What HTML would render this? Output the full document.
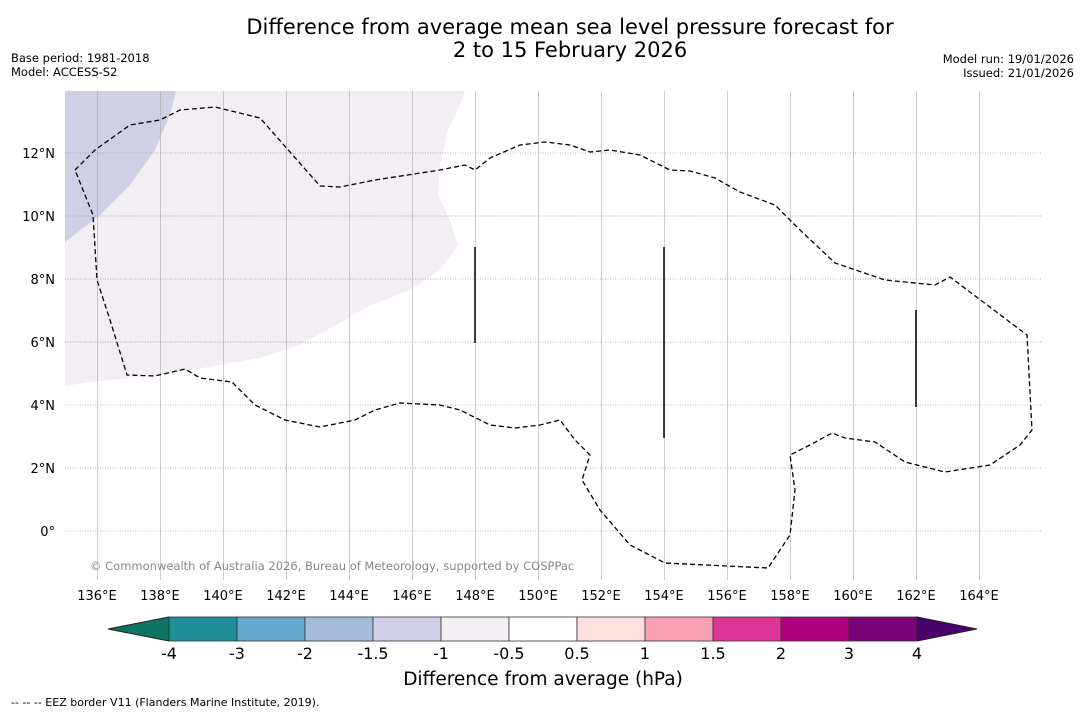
<!DOCTYPE html>
<html><head><meta charset="utf-8"><style>
body{margin:0;background:#fff;width:1085px;height:713px;overflow:hidden;font-family:"DejaVu Sans","Liberation Sans",sans-serif}
svg{position:absolute;left:0;top:0}
</style></head><body>
<svg id="c" width="1085" height="713" xmlns="http://www.w3.org/2000/svg">
<text x="570" y="34" font-size="21" text-anchor="middle">Difference from average mean sea level pressure forecast for</text>
<text x="570" y="57" font-size="21" text-anchor="middle">2 to 15 February 2026</text>
<text x="11" y="62" font-size="11.5">Base period: 1981-2018</text>
<text x="11" y="76" font-size="11.5">Model: ACCESS-S2</text>
<text x="1074" y="63" font-size="11.5" text-anchor="end">Model run: 19/01/2026</text>
<text x="1074" y="77" font-size="11.5" text-anchor="end">Issued: 21/01/2026</text>
<g id="map">
<polygon fill="#f3eef4" points="65,91 465,91 462,100 448,130 440,165 438,195 450,220 458,245 440,270 410,290 385,300 370,305 345,320 300,345 260,358 220,365 180,372 130,378 90,382 65,386"/>
<polygon fill="#cfd0e4" points="65,91 176,91 170,115 155,150 130,185 100,215 65,242"/>
</g>
<g id="grid"></g>
<polyline fill="none" stroke="#000" stroke-width="1.3" stroke-dasharray="5,3" points="75,170 95,150 130,125 160,120 180,110 215,107 260,118 320,186 340,187 375,180 440,170 465,165 475,170 490,158 520,145 545,142 570,145 590,152 610,150 640,155 670,170 690,171 715,178 740,192 775,205 800,230 835,263 885,280 935,285 950,277 1027,335 1032,430 1020,445 990,465 945,472 905,462 875,442 845,438 832,433 810,445 790,455 795,490 790,535 768,568 665,563 630,545 600,510 582,480 590,455 575,440 560,420 540,425 515,428 490,425 460,410 440,405 400,403 375,410 355,420 320,427 285,420 255,405 232,382 200,378 185,369 155,376 127,375 110,320 97,280 93,215 85,195 75,170"/>
<g stroke="#000" stroke-width="1.5">
<line x1="475" y1="247" x2="475" y2="343"/><line x1="664" y1="247" x2="664" y2="438"/><line x1="916" y1="310" x2="916" y2="407"/>
</g>
<text x="90" y="570" font-size="11.5" fill="#888">© Commonwealth of Australia 2026, Bureau of Meteorology, supported by COSPPac</text>
<g id="cbar"></g>
<text x="543" y="685" font-size="18.5" text-anchor="middle">Difference from average (hPa)</text>
<text x="11" y="706" font-size="11">--  --  -- EEZ border V11 (Flanders Marine Institute, 2019).</text>
</svg>
<script>
const lonTicks=[136,138,140,142,144,146,148,150,152,154,156,158,160,162,164];
const latTicks=[0,2,4,6,8,10,12];
const cbLabels=["-4","-3","-2","-1.5","-1","-0.5","0.5","1","1.5","2","3","4"];
const cbColors=["#1e8f96","#66a9cf","#a6bbda","#d0d1e6","#f3eef4","#ffffff","#fde0dd","#f9a0b8","#dd3497","#ae017e","#7a0177"];
const extLow="#0d7563", extHigh="#49006a";
const NS="http://www.w3.org/2000/svg";
const X0=65,X1=1042,Y0=91,Y1=580;
const lon=v=>97+(v-136)*31.5;
const lat=v=>531-v*31.5;
function mk(t,a,p){const e=document.createElementNS(NS,t);for(const k in a)e.setAttribute(k,a[k]);p.appendChild(e);return e;}
const g=document.getElementById('grid');
lonTicks.forEach(v=>{const x=lon(v);const xs=Math.round(x)+0.5;
 const l=mk('line',{x1:xs,x2:xs,y1:Y0,y2:Y1,stroke:'#aaa','stroke-width':0.6},g);
 
 
 const t=mk('text',{x:x,y:600,'font-size':13,'text-anchor':'middle'},g);t.textContent=v+'°E';
 
 });
latTicks.forEach(v=>{const y=lat(v);
 const l=mk('line',{x1:X0,x2:X1,y1:y,y2:y,stroke:'#999','stroke-width':0.8,'stroke-dasharray':'1,1.5'},g);
 
 
 const t=mk('text',{x:55,y:y+5,'font-size':13,'text-anchor':'end'},g);t.textContent=v===0?'0°':v+'°N';
 
 });
const cb=document.getElementById('cbar');
const cx0=169,cw=68,cy=617,ch=24;
const a=mk('polygon',{points:`${cx0},${cy} ${cx0},${cy+ch} 108,${cy+ch/2}`,fill:extLow,stroke:'#222','stroke-width':1},cb);


cbColors.forEach((c,i)=>{const r=mk('rect',{x:cx0+i*cw,y:cy,width:cw,height:ch,fill:c,stroke:'#333','stroke-width':0.8},cb);
 
 });
const xe=cx0+cbColors.length*cw;
const b=mk('polygon',{points:`${xe},${cy} ${xe},${cy+ch} 977,${cy+ch/2}`,fill:extHigh,stroke:'#222','stroke-width':1},cb);


cbLabels.forEach((s,i)=>{const t=mk('text',{x:cx0+i*cw,y:659,'font-size':16,'text-anchor':'middle'},cb);t.textContent=s;
 
 });
</script>
</body></html>
